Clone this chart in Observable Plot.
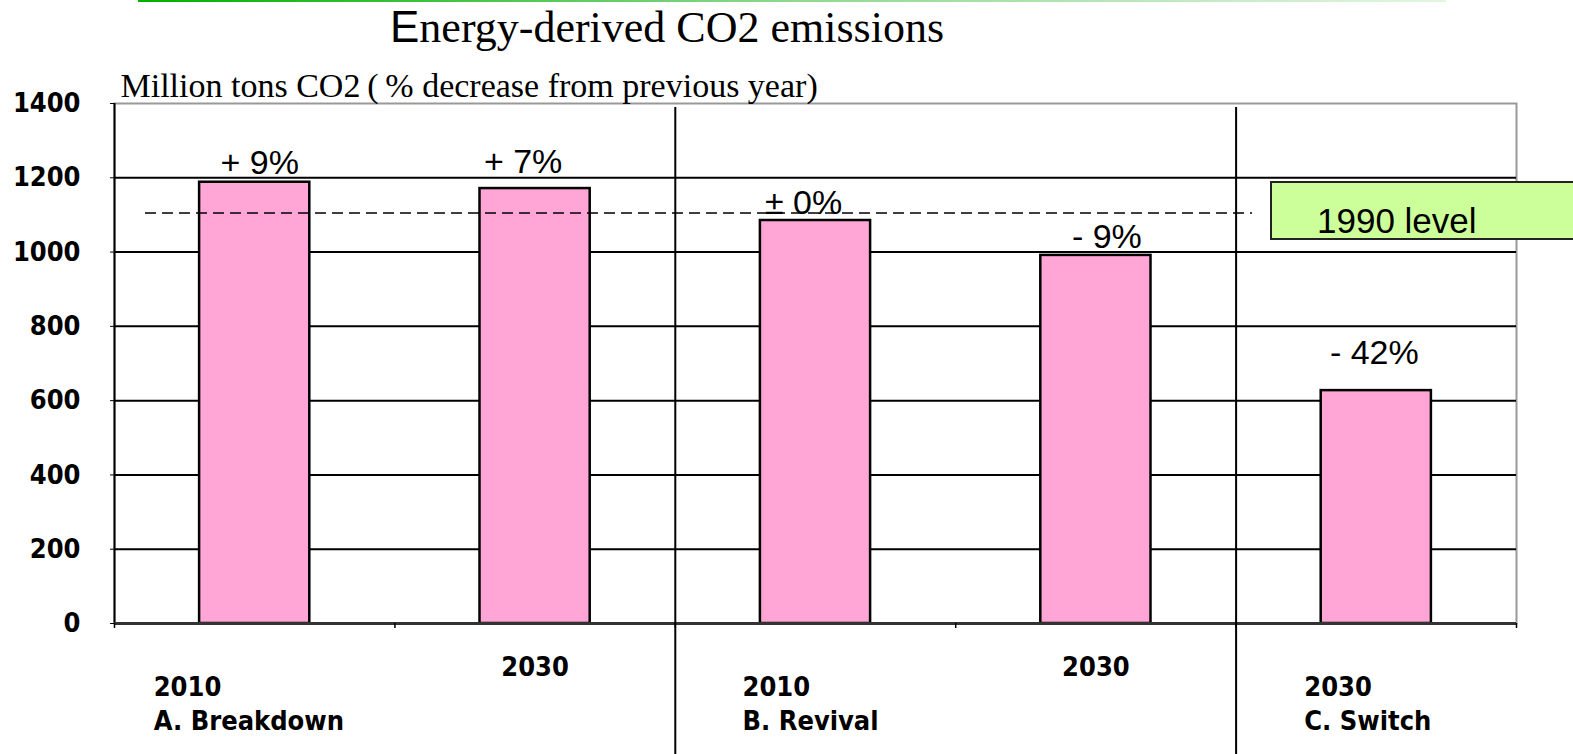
<!DOCTYPE html>
<html>
<head>
<meta charset="utf-8">
<script src="https://cdn.jsdelivr.net/npm/d3@7"></script>
<script src="https://cdn.jsdelivr.net/npm/@observablehq/plot@0.6"></script>
<style>
  body { margin: 0; background: #fff; overflow: hidden; }
  #wrap { position: relative; width: 1573px; height: 754px; overflow: hidden; }
  #head { position: relative; height: 60px; }
  #topline { position: absolute; left: 138px; top: 0; width: 1308px; height: 2px;
             background: linear-gradient(to right, #00b000, #8fd88f 50%, #e2f6e2); }
  #title { position: absolute; left: 390px; top: 5px; font: 44px/1 "Liberation Serif", serif;
           color: #000; white-space: nowrap; }
  #title .cap { font-family: "Liberation Sans", sans-serif; }
  #levelBox { position: absolute; left: 1270px; top: 181px; width: 330px; height: 59px;
              box-sizing: border-box; background: #ccff99; border: 2px solid #222; }
  #levelText { position: absolute; left: 1317px; top: 203px; font: 35px/1 "Liberation Sans", Arial, sans-serif;
               color: #000; white-space: nowrap; }
  #chart svg { display: block; }
</style>
</head>
<body>
<div id="wrap">
  <div id="head">
    <div id="topline"></div>
    <div id="title"><span class="cap">E</span>nergy-derived CO2 emissions</div>
  </div>
  <div id="chart"></div>
  <div id="levelBox"></div>
  <div id="levelText"></div>
</div>
<script>
// Scenario bars: key, year, scenario name, emissions (million t CO2), change label
const categories = ["A 2010", "A 2030", "B 2010", "B 2030", "C 2030"];
const years = ["2010", "2030", "2010", "2030", "2030"];
const scenarios = ["A. Breakdown", "", "B. Revival", "", "C. Switch"];
const emissions = [1188, 1171, 1085, 991, 627];
const changeLabels = ["+ 9%", "+ 7%", "± 0%", "- 9%", "- 42%"];
const level1990 = 1105;
const levelLabel = "1990 level";
const yTicks = [0, 200, 400, 600, 800, 1000, 1200, 1400];
const gridValues = [200, 400, 600, 800, 1000, 1200];
const groupStarts = ["B 2010", "C 2030"];
const subtitle = "Million tons CO2\u2009(\u2009% decrease from previous year)";

// label nudges (pixels)
const changeDx = [5, -12, -12, 11, -2];
const changeDy = [-8, -16, -7, -7, -27];
const nameDx = [-101, 0, -73, 0, -72];

const W = 1573, H = 694;
const ml = 114, mr = 57, mt = 43, mb = 131;
const step = (W - ml - mr) / categories.length;

const rows = categories.map((key, i) => ({
  key, year: years[i], scenario: scenarios[i], value: emissions[i], label: changeLabels[i]
}));

const pixelFont = "'DejaVu Sans Condensed', 'DejaVu Sans', sans-serif";

const changeMarks = rows.map((r, i) =>
  Plot.text([r], {
    x: "key", y: "value", text: "label",
    dx: changeDx[i], dy: changeDy[i], lineAnchor: "bottom",
    fontSize: 34, fontFamily: "'Liberation Sans', Arial, sans-serif", fill: "#000"
  })
);

const categoryMarks = rows.flatMap((r, i) => r.scenario
  ? [
      Plot.text([r], {x: "key", text: "year", frameAnchor: "bottom", textAnchor: "start",
        lineAnchor: "bottom", dx: nameDx[i], dy: 72, fontSize: 27, fontWeight: "bold", fontFamily: pixelFont}),
      Plot.text([r], {x: "key", text: "scenario", frameAnchor: "bottom", textAnchor: "start",
        lineAnchor: "bottom", dx: nameDx[i], dy: 106, fontSize: 27, fontWeight: "bold", fontFamily: pixelFont})
    ]
  : [
      Plot.text([r], {x: "key", text: "year", frameAnchor: "bottom", textAnchor: "middle",
        lineAnchor: "bottom", dy: 52, fontSize: 27, fontWeight: "bold", fontFamily: pixelFont})
    ]
);

const chart = Plot.plot({
  width: W,
  height: H,
  marginLeft: ml,
  marginRight: mr,
  marginTop: mt,
  marginBottom: mb,
  style: {background: "transparent", overflow: "visible", color: "#000"},
  x: {type: "band", domain: categories, paddingInner: 0.607, paddingOuter: 0.3035, round: false, axis: null},
  y: {domain: [0, 1400], axis: null, label: null},
  marks: [
    Plot.frame({stroke: "#999", strokeWidth: 2}),
    Plot.ruleY(gridValues, {stroke: "#000", strokeWidth: 2}),
    Plot.barY(rows, {x: "key", y: "value", fill: "#ffa6d6", stroke: "#000", strokeWidth: 2.5}),
    Plot.ruleY([level1990], {stroke: "#000", strokeWidth: 1.5, strokeDasharray: "11,6", insetLeft: 31, insetRight: 264}),
    // left axis line
    Plot.ruleX([categories[0]], {dx: -step / 2, y1: 0, y2: 1400, stroke: "#000", strokeWidth: 2}),
    // baseline
    Plot.ruleY([0], {stroke: "#333", strokeWidth: 3}),
    // scenario group separators running down through the labels
    Plot.ruleX(groupStarts, {dx: -step / 2, y1: 1389, y2: 0, insetBottom: -mb, stroke: "#000", strokeWidth: 2}),
    // category boundary ticks
    Plot.ruleX(categories, {dx: -step / 2, y1: 0, y2: 0, insetBottom: -5, stroke: "#000", strokeWidth: 1.5}),
    Plot.ruleX([categories[categories.length - 1]], {dx: step / 2, y1: 0, y2: 0, insetBottom: -5, stroke: "#000", strokeWidth: 1.5}),
    Plot.axisY({ticks: yTicks, tickFormat: d => String(d), tickSize: 4, tickPadding: 30,
      fontSize: 27, fontWeight: "bold", fontFamily: pixelFont, label: null}),
    Plot.text([subtitle], {text: d => d, frameAnchor: "top-left", textAnchor: "start", lineAnchor: "bottom",
      dx: 6, dy: -7, fontSize: 34, fontFamily: "'Liberation Serif', serif", fill: "#000"}),
    ...changeMarks,
    ...categoryMarks
  ]
});

document.getElementById("chart").append(chart);
document.getElementById("levelText").textContent = levelLabel;
</script>
</body>
</html>
